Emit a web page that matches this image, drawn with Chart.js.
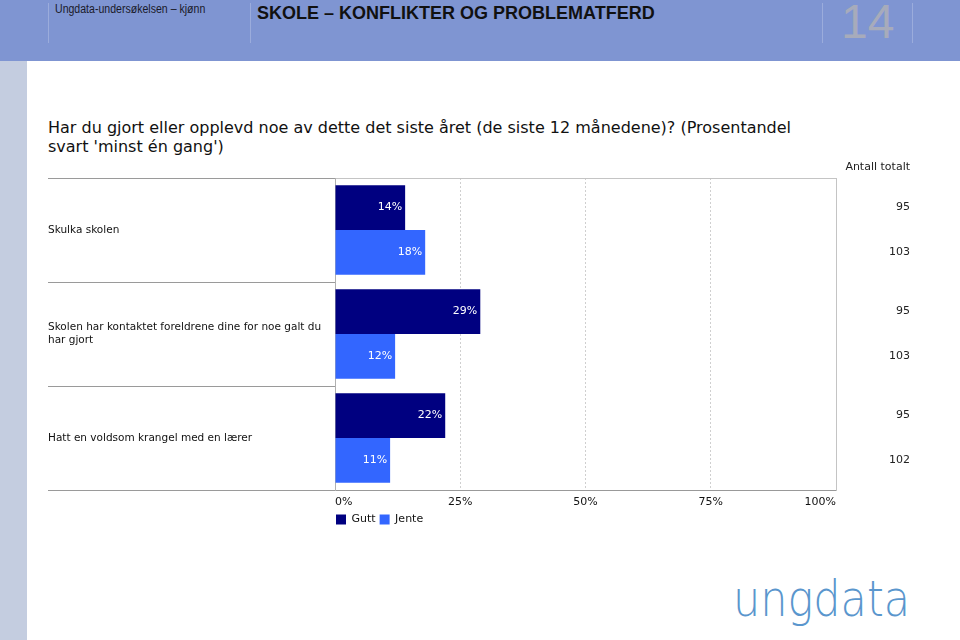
<!DOCTYPE html>
<html>
<head>
<meta charset="utf-8">
<script src="https://cdn.jsdelivr.net/npm/chart.js@4/dist/chart.umd.min.js"></script>
<style>
  body{margin:0;width:960px;height:640px;position:relative;overflow:hidden;background:#fff;font-family:'DejaVu Sans',sans-serif;}
  .abs{position:absolute;}
  .sep{position:absolute;top:3px;width:1px;height:40px;background:rgba(255,255,255,0.22);}
</style>
</head>
<body>
<div class="abs" style="left:0;top:0;width:960px;height:61px;background:#7f95d2;"></div>
<div class="sep" style="left:48px"></div>
<div class="sep" style="left:250px"></div>
<div class="sep" style="left:822px"></div>
<div class="sep" style="left:912px"></div>
<div class="abs" style="left:55px;top:2px;font:12px 'Liberation Sans',Arial,sans-serif;color:#1a1a2a;transform:scaleX(0.88);transform-origin:0 0;white-space:nowrap;">Ungdata-undersøkelsen – kjønn</div>
<div class="abs" style="left:257px;top:3px;font:bold 18px 'Liberation Sans',Arial,sans-serif;color:#111;white-space:nowrap;">SKOLE – KONFLIKTER OG PROBLEMATFERD</div>
<div class="abs" style="left:841px;top:-6px;font:48px 'Liberation Sans',Arial,sans-serif;color:#a7abbb;white-space:nowrap;">14</div>
<div class="abs" style="left:0;top:61px;width:27px;height:579px;background:#c4cde0;"></div>
<div class="abs" style="left:48px;top:118px;font:16px 'DejaVu Sans',sans-serif;line-height:19px;color:#111;white-space:nowrap;">Har du gjort eller opplevd noe av dette det siste året (de siste 12 månedene)? (Prosentandel<br>svart 'minst én gang')</div>
<div class="abs" style="left:0;top:160px;width:960px;height:390px;"><canvas id="c" width="960" height="390"></canvas></div>
<div class="abs" style="left:733px;top:570px;font:200 50px 'DejaVu Sans',sans-serif;color:#5a96cd;transform:scaleX(0.86);transform-origin:0 0;white-space:nowrap;">ungdata</div>
<script>
const categories = [
  ['Skulka skolen'],
  ['Skolen har kontaktet foreldrene dine for noe galt du', 'har gjort'],
  ['Hatt en voldsom krangel med en lærer']
];
const seriesNames = ['Gutt', 'Jente'];
const gutt = [14, 29, 22];
const jente = [18, 12, 11];
const guttAntall = [95, 95, 95];
const jenteAntall = [103, 103, 102];
const xTickValues = [0, 25, 50, 75, 100];
const antallHeader = 'Antall totalt';

const counts = [guttAntall, jenteAntall];
const FONT = 'DejaVu Sans';

const barLabels = {
  id: 'barLabels',
  afterDatasetsDraw(chart) {
    const c = chart.ctx;
    c.save();
    c.font = '11px "' + FONT + '"';
    c.textBaseline = 'middle';
    c.textAlign = 'right';
    chart.data.datasets.forEach((ds, i) => {
      chart.getDatasetMeta(i).data.forEach((bar, j) => {
        c.fillStyle = '#ffffff';
        c.fillText(ds.data[j] + '%', bar.x - 3, bar.y);
        c.fillStyle = '#222222';
        c.fillText(String(counts[i][j]), chart.width - 50, bar.y);
      });
    });
    c.fillStyle = '#222222';
    c.fillText(antallHeader, chart.width - 50, 7);
    c.restore();
  }
};

const legendShift = {
  id: 'legendShift',
  beforeDraw(chart) {
    if (chart.legend) chart.legend.left = chart.chartArea.left - 3;
  }
};

new Chart(document.getElementById('c'), {
  type: 'bar',
  data: {
    labels: categories,
    datasets: [
      { label: seriesNames[0], data: gutt, backgroundColor: '#000080', borderWidth: 0 },
      { label: seriesNames[1], data: jente, backgroundColor: '#3366ff', borderWidth: 0 }
    ]
  },
  options: {
    indexAxis: 'y',
    responsive: false,
    animation: false,
    devicePixelRatio: 1,
    categoryPercentage: 0.86,
    barPercentage: 1,
    layout: { padding: { left: 48, right: 0, top: 18, bottom: 15 } },
    plugins: {
      legend: {
        position: 'bottom', align: 'start', fullSize: false,
        labels: { boxWidth: 10, boxHeight: 10, padding: 4, color: '#111', font: { family: FONT, size: 11 } }
      },
      tooltip: { enabled: false }
    },
    scales: {
      x: {
        type: 'linear', min: 0, max: 100, position: 'bottom',
        afterBuildTicks(s) { s.ticks = xTickValues.map(v => ({ value: v })); },
        afterFit(s) { s.height = 20; },
        ticks: { callback: v => v + '%', align: 'inner', padding: 6, color: '#111', font: { family: FONT, size: 11 }, maxRotation: 0 },
        grid: { drawTicks: false, color: ctx => (ctx.tick && ctx.tick.value > 0 && ctx.tick.value < 100) ? '#cfcfcf' : 'rgba(0,0,0,0)' },
        border: { display: true, color: '#999', dash: [2, 2] }
      },
      x2: {
        type: 'linear', min: 0, max: 100, position: 'top',
        afterFit(s) { s.height = 0; },
        ticks: { display: false },
        grid: { display: false, drawTicks: false },
        border: { display: true, color: '#c4c4c4' }
      },
      y: {
        type: 'category', position: 'left',
        afterFit(s) { s.width = 287; },
        ticks: { crossAlign: 'far', padding: 0, color: '#111', font: { family: FONT, size: 10.5 }, autoSkip: false },
        grid: { offset: true, drawOnChartArea: false, drawTicks: true, tickLength: 287, color: '#9a9a9a', tickColor: '#9a9a9a' },
        border: { display: true, color: '#b0b0b0' }
      },
      y2: {
        type: 'category', position: 'right',
        afterFit(s) { s.width = 124; },
        ticks: { display: false },
        grid: { display: false, drawTicks: false },
        border: { display: true, color: '#c4c4c4' }
      }
    }
  },
  plugins: [barLabels, legendShift]
});
</script>
</body>
</html>
